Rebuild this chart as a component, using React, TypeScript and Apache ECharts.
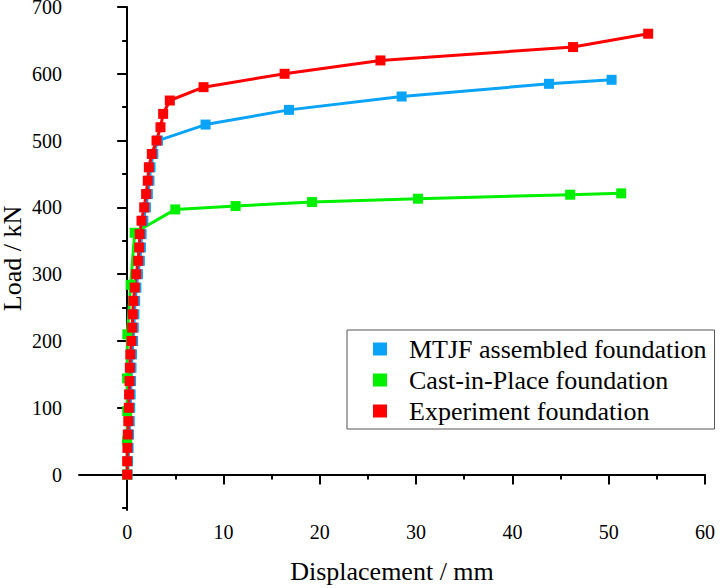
import React, { useEffect, useRef } from "react";
import * as echarts from "echarts";

const seriesNames = ["MTJF assembled foundation", "Cast-in-Place foundation", "Experiment foundation"];
const seriesColors = ["#0aa3f5", "#00f000", "#ff0000"];

const mtjfDisp = [0.05, 0.1, 0.15, 0.2, 0.27, 0.32, 0.36, 0.41, 0.45, 0.5, 0.62, 0.69, 0.75, 0.83, 0.96, 1.12, 1.32, 1.43, 1.5, 1.68, 1.95, 2.15, 2.32, 2.43, 2.72, 3.2, 8.14, 16.8, 28.5, 43.8, 50.3];
const mtjfLoad = [0, 20, 40, 60, 80, 100, 120, 140, 160, 180, 200, 220, 240, 260, 280, 300, 320, 340, 360, 380, 400, 420, 440, 460, 480, 500, 524, 546, 566, 585, 591];

const castDisp = [0, 0, 0, 0, 0.02, 0.36, 0.78, 5.0, 11.26, 19.2, 30.2, 46.0, 51.3];
const castLoad = [0, 51, 95, 144, 210, 284, 362, 397, 402, 408, 413, 419, 421];

const expDisp = [0, 0, 0.03, 0.07, 0.12, 0.17, 0.2, 0.25, 0.28, 0.33, 0.45, 0.52, 0.58, 0.65, 0.79, 0.94, 1.14, 1.25, 1.31, 1.49, 1.77, 1.97, 2.14, 2.25, 2.56, 3.05, 3.46, 3.74, 4.43, 7.93, 16.35, 26.3, 46.3, 54.1];
const expLoad = [0, 20, 40, 60, 80, 100, 120, 140, 160, 180, 200, 220, 240, 260, 280, 300, 320, 340, 360, 380, 400, 420, 440, 460, 480, 500, 520, 540, 560, 580, 600, 620, 640, 660];

const xMajorTicks = [0, 10, 20, 30, 40, 50, 60];
const xMinorTicks = [5, 15, 25, 35, 45, 55];
const yMajorTicks = [0, 100, 200, 300, 400, 500, 600, 700];
const yMinorTicks = [-50, 50, 150, 250, 350, 450, 550, 650];

const FONT = "Liberation Serif";

function zip(xs: number[], ys: number[]) {
  return xs.map((x, i) => [x, ys[i]]);
}

export default function App() {
  const ref = useRef<HTMLDivElement>(null);
  useEffect(() => {
    document.body.style.margin = "0";
    if (!ref.current) return;
    const chart = echarts.init(ref.current, undefined, { renderer: "svg" });
    const X_MIN = -5, X_MAX = 60, Y_MIN = -53, Y_MAX = 700;
    const axisLine = { show: true, lineStyle: { color: "#000", width: 2 } };
    const mk = (name: string, color: string, data: number[][]) => ({
      name,
      type: "line",
      data,
      xAxisIndex: 0,
      yAxisIndex: 0,
      symbol: "rect",
      symbolSize: 10,
      showSymbol: true,
      lineStyle: { color, width: 3 },
      itemStyle: { color },
      emphasis: { disabled: true },
    });
    chart.setOption({
      animation: false,
      backgroundColor: "#fff",
      textStyle: { fontFamily: FONT },
      grid: { left: 79, right: 15, top: 7, bottom: 78, containLabel: false, outerBoundsMode: "none" },
      xAxis: [
        {
          type: "value",
          min: X_MIN,
          max: X_MAX,
          name: "Displacement / mm",
          nameLocation: "middle",
          nameGap: 48,
          nameMoveOverlap: false,
          nameTextStyle: { fontFamily: FONT, fontSize: 26, color: "#000" },
          axisLine,
          axisTick: { show: true, inside: false, length: 10, customValues: xMajorTicks, lineStyle: { color: "#000", width: 2 } },
          axisLabel: { customValues: xMajorTicks, fontFamily: FONT, fontSize: 20, color: "#000", margin: 12 },
          splitLine: { show: false },
        },
        {
          type: "value",
          min: X_MIN,
          max: X_MAX,
          position: "bottom",
          axisLine: { show: false },
          axisTick: { show: true, inside: false, length: 5, customValues: xMinorTicks, lineStyle: { color: "#000", width: 2 } },
          axisLabel: { show: false },
          splitLine: { show: false },
        },
      ],
      yAxis: [
        {
          type: "value",
          min: Y_MIN,
          max: Y_MAX,
          name: "Load / kN",
          nameLocation: "middle",
          nameGap: 57,
          nameMoveOverlap: false,
          nameRotate: 90,
          nameTextStyle: { fontFamily: FONT, fontSize: 26, color: "#000", lineHeight: 20 },
          axisLine,
          axisTick: { show: true, inside: false, length: 10, customValues: yMajorTicks, lineStyle: { color: "#000", width: 2 } },
          axisLabel: { customValues: yMajorTicks, fontFamily: FONT, fontSize: 20, color: "#000", margin: 17, lineHeight: 8, padding: [6, 0, 0, 0] },
          splitLine: { show: false },
        },
        {
          type: "value",
          min: Y_MIN,
          max: Y_MAX,
          position: "left",
          axisLine: { show: false },
          axisTick: { show: true, inside: false, length: 5, customValues: yMinorTicks, lineStyle: { color: "#000", width: 2 } },
          axisLabel: { show: false },
          splitLine: { show: false },
        },
      ],
      legend: {
        left: 347,
        top: 330,
        orient: "vertical",
        borderColor: "#555",
        borderWidth: 1,
        backgroundColor: "#fff",
        padding: [6, 8, 5, 26],
        itemGap: 5,
        icon: "rect",
        itemWidth: 14,
        itemHeight: 13,
        data: seriesNames,
        textStyle: { fontFamily: FONT, fontSize: 26, color: "#000", padding: [0, 0, 0, 17], lineHeight: 26 },
      },
      series: [
        mk(seriesNames[0], seriesColors[0], zip(mtjfDisp, mtjfLoad)),
        mk(seriesNames[1], seriesColors[1], zip(castDisp, castLoad)),
        mk(seriesNames[2], seriesColors[2], zip(expDisp, expLoad)),
      ],
    });
    return () => chart.dispose();
  }, []);
  return <div ref={ref} style={{ width: 720, height: 588 }} />;
}
